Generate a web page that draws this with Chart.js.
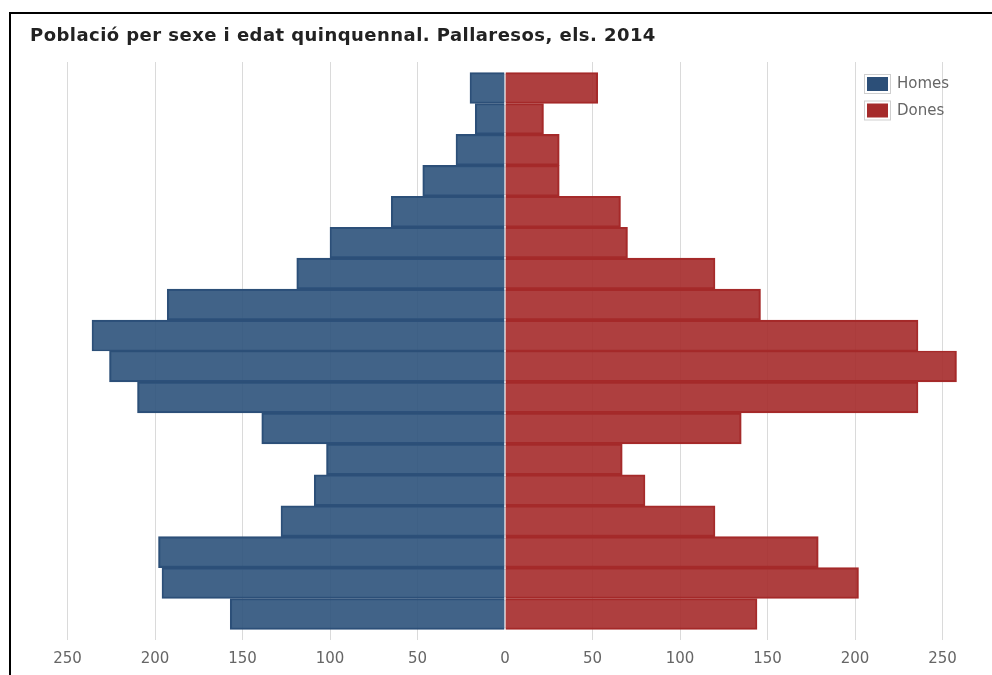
<!DOCTYPE html>
<html>
<head>
<meta charset="utf-8">
<script src="https://cdn.jsdelivr.net/npm/chart.js@4/dist/chart.umd.min.js"></script>
<style>
  html, body { margin: 0; padding: 0; background: #fff; width: 992px; height: 675px; overflow: hidden; }
  #lineLeft { position: absolute; left: 9px; top: 12px; width: 2px; height: 663px; background: #000; }
  #lineTop { position: absolute; left: 9px; top: 12px; width: 983px; height: 2px; background: #000; }
  #title { position: absolute; left: 30px; top: 24px; line-height: 22px; letter-spacing: 0.45px;
           font-family: "DejaVu Sans", sans-serif; font-weight: bold; font-size: 18px; color: #222; white-space: nowrap; }
  #wrap { position: absolute; left: 0; top: 0; width: 992px; height: 675px; }
</style>
</head>
<body>
<div id="wrap"><canvas id="c"></canvas></div>
<div id="lineLeft"></div>
<div id="lineTop"></div>
<div id="title">Població per sexe i edat quinquennal. Pallaresos, els. 2014</div>
<script>
// Age groups, bottom (youngest) to top (oldest)
const ageGroups = ['0-4','5-9','10-14','15-19','20-24','25-29','30-34','35-39','40-44',
                   '45-49','50-54','55-59','60-64','65-69','70-74','75-79','80-84','85+'];
// Values in the same order as ageGroups
const homes = [157, 196, 198, 128, 109, 102, 139, 210, 226, 236, 193, 119, 100, 65, 47, 28, 17, 20];
const dones = [144, 202, 179, 120, 80, 67, 135, 236, 258, 236, 146, 120, 70, 66, 31, 31, 22, 53];
const seriesNames = ['Homes', 'Dones'];
const tickValues = [-250, -200, -150, -100, -50, 0, 50, 100, 150, 200, 250];

const fills = ['rgba(44,82,123,0.9)', 'rgba(165,42,42,0.9)'];
const borders = ['#2c4f78', '#a52a2a'];

const legendPlugin = {
  id: 'boxLegend',
  afterDraw(chart) {
    const ctx = chart.ctx;
    const ca = chart.chartArea;
    const x0 = ca.right - 96;
    const y0 = ca.top + 12;
    ctx.save();
    chart.data.datasets.forEach((ds, i) => {
      const y = y0 + i * 26.5;
      ctx.fillStyle = '#fff';
      ctx.fillRect(x0, y, 27, 20);
      ctx.strokeStyle = '#cfcfcf';
      ctx.lineWidth = 1;
      ctx.strokeRect(x0 + 0.5, y + 0.5, 26, 19);
      ctx.fillStyle = borders[i];
      ctx.fillRect(x0 + 3, y + 3, 21, 14);
      ctx.fillStyle = '#666';
      ctx.font = '15px "DejaVu Sans", sans-serif';
      ctx.textBaseline = 'middle';
      ctx.textAlign = 'left';
      ctx.fillText(ds.label, x0 + 33, y + 10.5);
    });
    ctx.restore();
  }
};

new Chart(document.getElementById('c'), {
  type: 'bar',
  data: {
    datasets: [
      {
        label: seriesNames[0],
        data: homes.map((v, i) => ({ x: -v, y: i })),
        backgroundColor: fills[0],
        borderColor: borders[0],
        borderWidth: 1.5,
        barPercentage: 1,
        categoryPercentage: 1
      },
      {
        label: seriesNames[1],
        data: dones.map((v, i) => ({ x: v, y: i })),
        backgroundColor: fills[1],
        borderColor: borders[1],
        borderWidth: 1.5,
        barPercentage: 1,
        categoryPercentage: 1
      }
    ]
  },
  plugins: [legendPlugin],
  options: {
    indexAxis: 'y',
    responsive: true,
    maintainAspectRatio: false,
    animation: false,
    datasets: { bar: { grouped: false, barPercentage: 1, categoryPercentage: 1 } },
    layout: { padding: { left: 50, right: 32, top: 62, bottom: -3 } },
    plugins: {
      legend: { display: false },
      title: { display: false },
      tooltip: { enabled: false }
    },
    scales: {
      x: {
        type: 'linear',
        bounds: 'data',
        min: -260,
        max: 260,
        afterBuildTicks(scale) { scale.ticks = tickValues.map(v => ({ value: v })); },
        ticks: {
          includeBounds: false,
          stepSize: 50,
          autoSkip: false,
          maxRotation: 0,
          padding: 10,
          color: '#666',
          font: { family: '"DejaVu Sans", sans-serif', size: 15 },
          callback: (v) => String(Math.abs(v))
        },
        grid: {
          color: (c) => (c.tick && c.tick.value === 0 ? 'rgba(0,0,0,0)' : '#dadada'),
          lineWidth: 1,
          drawTicks: false
        },
        border: { display: false }
      },
      y: {
        type: 'linear',
        display: false,
        offset: false,
        bounds: 'data',
        grace: 0,
        min: -0.84,
        max: 17.84,
        afterBuildTicks(scale) { scale.ticks = ageGroups.map((g, i) => ({ value: i })); },
        ticks: { stepSize: 1, includeBounds: false },
        grid: { display: false, offset: false }
      }
    }
  }
});
</script>
</body>
</html>
